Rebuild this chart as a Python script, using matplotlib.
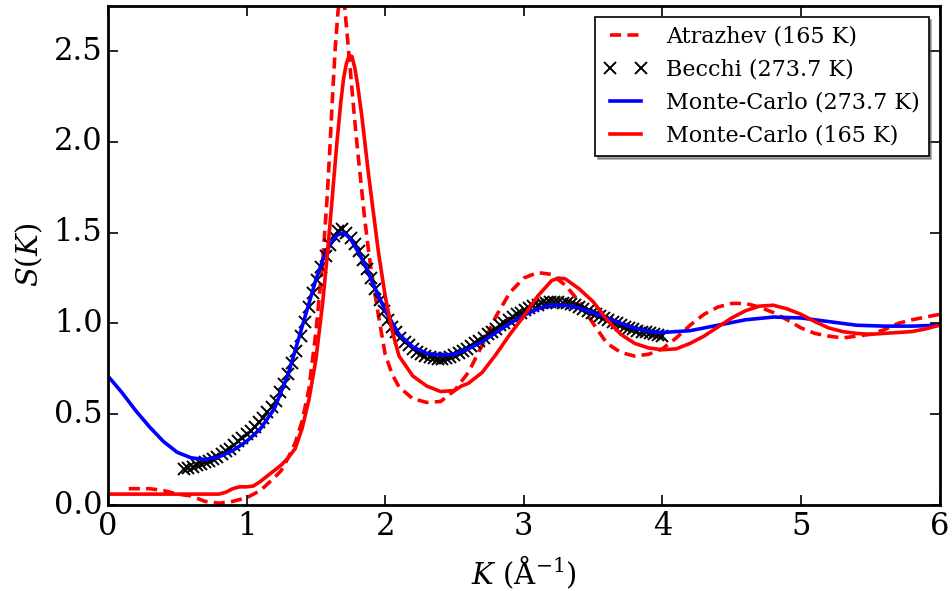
import numpy as np
import matplotlib
matplotlib.use("Agg")
import matplotlib.pyplot as plt

# Atrazhev (165 K), dashed red
atr_k = [0.15, 0.20, 0.30, 0.40, 0.50, 0.60, 0.70, 0.80, 0.90, 1.00, 1.10, 1.20, 1.25,
         1.30, 1.35, 1.40, 1.45, 1.50, 1.55, 1.58, 1.60, 1.62, 1.64, 1.66, 1.68, 1.70,
         1.72, 1.75, 1.78, 1.80, 1.83, 1.85, 1.88, 1.90, 1.95, 2.00, 2.05, 2.10, 2.20,
         2.30, 2.40, 2.50, 2.60, 2.70, 2.80, 2.90, 3.00, 3.10, 3.20, 3.30, 3.40, 3.50,
         3.60, 3.70, 3.80, 3.90, 4.00, 4.10, 4.20, 4.30, 4.40, 4.50, 4.60, 4.70, 4.80,
         4.90, 5.00, 5.10, 5.20, 5.30, 5.40, 5.50, 5.60, 5.70, 5.80, 5.90, 6.00]
atr_s = [0.09, 0.09, 0.09, 0.08, 0.06, 0.05, 0.02, 0.01, 0.02, 0.04, 0.08, 0.15, 0.19,
         0.26, 0.34, 0.46, 0.64, 0.95, 1.35, 1.68, 1.95, 2.25, 2.52, 2.72, 2.84, 2.80,
         2.64, 2.38, 2.12, 1.96, 1.74, 1.59, 1.40, 1.29, 1.05, 0.83, 0.72, 0.65, 0.585,
         0.565, 0.57, 0.63, 0.73, 0.88, 1.04, 1.17, 1.25, 1.28, 1.27, 1.21, 1.12, 1.00,
         0.89, 0.84, 0.82, 0.83, 0.86, 0.92, 0.99, 1.05, 1.09, 1.11, 1.11, 1.09, 1.06,
         1.02, 0.975, 0.945, 0.93, 0.92, 0.93, 0.94, 0.965, 1.00, 1.02, 1.035, 1.05]

# Becchi (273.7 K), black crosses
becchi_k = [0.55, 0.58, 0.61, 0.64, 0.67, 0.70, 0.73, 0.76, 0.79, 0.82, 0.85, 0.88,
            0.91, 0.94, 0.97, 1.00, 1.03, 1.06, 1.09, 1.12, 1.15, 1.18, 1.21, 1.24,
            1.27, 1.30, 1.33, 1.36, 1.39, 1.42, 1.45, 1.48, 1.51, 1.54, 1.57, 1.60,
            1.63, 1.66, 1.69, 1.72, 1.75, 1.78, 1.81, 1.84, 1.87, 1.90, 1.93, 1.96,
            1.99, 2.02, 2.05, 2.08, 2.11, 2.14, 2.17, 2.20, 2.23, 2.26, 2.29, 2.32,
            2.35, 2.38, 2.41, 2.44, 2.47, 2.50, 2.53, 2.56, 2.59, 2.62, 2.65, 2.68,
            2.71, 2.74, 2.77, 2.80, 2.83, 2.86, 2.89, 2.92, 2.95, 2.98, 3.01, 3.04,
            3.07, 3.10, 3.13, 3.16, 3.19, 3.22, 3.25, 3.28, 3.31, 3.34, 3.37, 3.40,
            3.43, 3.46, 3.49, 3.52, 3.55, 3.58, 3.61, 3.64, 3.67, 3.70, 3.73, 3.76,
            3.79, 3.82, 3.85, 3.88, 3.91, 3.94, 3.97, 4.00]
becchi_s = [0.20, 0.205, 0.21, 0.22, 0.225, 0.235, 0.245, 0.255, 0.265, 0.28, 0.295, 0.31,
            0.33, 0.35, 0.37, 0.39, 0.41, 0.43, 0.455, 0.48, 0.51, 0.54, 0.575, 0.62,
            0.665, 0.72, 0.78, 0.85, 0.93, 1.01, 1.09, 1.17, 1.24, 1.31, 1.37, 1.43,
            1.48, 1.51, 1.52, 1.50, 1.47, 1.44, 1.40, 1.35, 1.30, 1.25, 1.19, 1.13,
            1.07, 1.02, 0.98, 0.95, 0.92, 0.90, 0.88, 0.86, 0.845, 0.83, 0.82, 0.815,
            0.81, 0.805, 0.805, 0.81, 0.815, 0.825, 0.835, 0.85, 0.86, 0.875, 0.89, 0.905,
            0.92, 0.94, 0.955, 0.97, 0.99, 1.005, 1.02, 1.035, 1.05, 1.06, 1.075, 1.085,
            1.095, 1.10, 1.11, 1.115, 1.12, 1.12, 1.12, 1.115, 1.11, 1.105, 1.10, 1.09,
            1.08, 1.07, 1.06, 1.05, 1.04, 1.03, 1.02, 1.01, 1.00, 0.99, 0.98, 0.975,
            0.97, 0.96, 0.955, 0.95, 0.945, 0.94, 0.935, 0.93]

# Monte-Carlo (273.7 K), blue
mc273_k = [0.00, 0.10, 0.20, 0.30, 0.40, 0.50, 0.60, 0.70, 0.80, 0.90, 1.00, 1.10, 1.20,
           1.30, 1.40, 1.50, 1.55, 1.60, 1.65, 1.70, 1.75, 1.80, 1.85, 1.90, 2.00, 2.10,
           2.20, 2.30, 2.40, 2.50, 2.60, 2.70, 2.80, 2.90, 3.00, 3.10, 3.20, 3.30, 3.40,
           3.50, 3.60, 3.70, 3.80, 3.90, 4.00, 4.20, 4.40, 4.60, 4.80, 5.00, 5.20, 5.40,
           5.60, 5.80, 6.00]
mc273_s = [0.71, 0.62, 0.52, 0.43, 0.35, 0.29, 0.26, 0.25, 0.265, 0.30, 0.35, 0.42, 0.53,
           0.72, 0.98, 1.24, 1.35, 1.43, 1.485, 1.50, 1.465, 1.40, 1.33, 1.24, 1.07, 0.94,
           0.87, 0.835, 0.825, 0.83, 0.86, 0.90, 0.95, 1.00, 1.045, 1.08, 1.10, 1.10, 1.085,
           1.06, 1.03, 1.00, 0.975, 0.955, 0.95, 0.96, 0.99, 1.02, 1.035, 1.03, 1.01, 0.99,
           0.985, 0.985, 0.99]

# Monte-Carlo (165 K), red
mc165_k = [0.00, 0.40, 0.80, 0.85, 0.90, 0.95, 1.00, 1.05, 1.10, 1.15, 1.20, 1.25, 1.30,
           1.35, 1.40, 1.45, 1.50, 1.55, 1.58, 1.60, 1.62, 1.65, 1.68, 1.70, 1.72, 1.74,
           1.76, 1.78, 1.80, 1.83, 1.85, 1.88, 1.90, 1.95, 2.00, 2.05, 2.10, 2.20, 2.30,
           2.40, 2.50, 2.55, 2.60, 2.70, 2.80, 2.90, 3.00, 3.10, 3.20, 3.25, 3.30, 3.40,
           3.50, 3.60, 3.70, 3.80, 3.90, 4.00, 4.10, 4.20, 4.30, 4.40, 4.50, 4.60, 4.70,
           4.80, 4.90, 5.00, 5.10, 5.20, 5.30, 5.40, 5.50, 5.60, 5.70, 5.80, 5.90, 6.00]
mc165_s = [0.06, 0.06, 0.06, 0.07, 0.09, 0.10, 0.10, 0.105, 0.13, 0.16, 0.19, 0.22, 0.26,
           0.31, 0.42, 0.58, 0.80, 1.12, 1.36, 1.53, 1.71, 1.98, 2.22, 2.35, 2.43, 2.475,
           2.47, 2.41, 2.32, 2.15, 2.02, 1.82, 1.70, 1.40, 1.15, 0.96, 0.82, 0.71, 0.655,
           0.625, 0.63, 0.655, 0.67, 0.73, 0.83, 0.94, 1.04, 1.15, 1.235, 1.25, 1.245, 1.19,
           1.12, 1.02, 0.94, 0.89, 0.865, 0.855, 0.86, 0.89, 0.93, 0.98, 1.03, 1.07, 1.095,
           1.10, 1.08, 1.05, 1.01, 0.975, 0.955, 0.945, 0.94, 0.945, 0.95, 0.955, 0.97, 0.99]

plt.style.use('classic')
plt.rcParams['figure.facecolor'] = 'white'
plt.rcParams['font.family'] = ['DejaVu Serif']
plt.rcParams['mathtext.fontset'] = 'dejavuserif'

fig = plt.figure(figsize=(9.52, 5.91), dpi=100)
ax = fig.add_axes([0.1134, 0.1455, 0.8736, 0.845])

ax.plot(atr_k, atr_s, '--', color='red', lw=2.6, dashes=(8, 4.5), label='Atrazhev (165 K)')
ax.plot(becchi_k, becchi_s, 'x', color='black', ms=8.5, mew=1.4, label='Becchi (273.7 K)')
ax.plot(mc273_k, mc273_s, '-', color='blue', lw=2.6, label='Monte-Carlo (273.7 K)')
ax.plot(mc165_k, mc165_s, '-', color='red', lw=2.6, label='Monte-Carlo (165 K)')

ax.set_xlim(0, 6)
ax.set_ylim(0, 2.75)
ax.set_xticks(np.arange(0, 7, 1))
ax.set_yticks(np.arange(0, 3.0, 0.5))
ax.tick_params(labelsize=22, width=1.2, length=7)
for sp in ax.spines.values():
    sp.set_linewidth(2)

ax.set_xlabel(r'$K$ (Å$^{-1}$)', fontsize=21, labelpad=9)
ax.set_ylabel(r'$S(K)$', fontsize=21, labelpad=6)

leg = ax.legend(loc='upper right', fontsize=16, shadow=True, numpoints=2,
                borderaxespad=0.5, handlelength=2)
leg.get_frame().set_linewidth(1.2)

plt.savefig('out.png', dpi=100)
